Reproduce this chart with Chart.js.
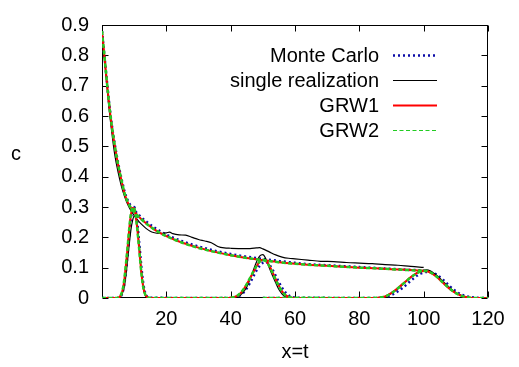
<!DOCTYPE html>
<html>
<head>
<meta charset="utf-8">
<script src="https://cdn.jsdelivr.net/npm/chart.js@4.4.1/dist/chart.umd.min.js"></script>
<style>
  html, body { margin: 0; padding: 0; background: #fff; }
  #wrap { width: 519px; height: 367px; }
</style>
</head>
<body>
<div id="wrap"><canvas id="grafico"></canvas></div>
<script>
// Datos (x = t, c)
const decayX = [0, 1, 2, 3, 4, 5, 6, 7, 8, 9, 10, 12, 14, 16, 18, 20, 25, 30, 35, 40, 45, 50, 55, 60, 65, 70, 75, 80, 85, 90, 95, 100];
const mcDecay = [0.88, 0.772, 0.665, 0.575, 0.505, 0.446, 0.396, 0.352, 0.322, 0.303, 0.29, 0.268, 0.25, 0.234, 0.221, 0.209, 0.187, 0.17, 0.156, 0.145, 0.136, 0.129, 0.122, 0.116, 0.111, 0.108, 0.105, 0.102, 0.099, 0.096, 0.093, 0.091];
const grw1Decay = [0.88, 0.77, 0.66, 0.57, 0.5, 0.44, 0.39, 0.345, 0.315, 0.297, 0.285, 0.262, 0.244, 0.228, 0.215, 0.204, 0.182, 0.166, 0.152, 0.141, 0.132, 0.125, 0.118, 0.113, 0.109, 0.106, 0.103, 0.1, 0.098, 0.095, 0.093, 0.09];
const grw2Decay = [0.88, 0.771, 0.661, 0.571, 0.5, 0.44, 0.391, 0.346, 0.316, 0.297, 0.284, 0.262, 0.243, 0.228, 0.215, 0.204, 0.182, 0.165, 0.152, 0.141, 0.132, 0.125, 0.118, 0.113, 0.109, 0.106, 0.103, 0.1, 0.098, 0.095, 0.092, 0.09];

const singleX = [0, 1, 2, 3, 4, 5, 6, 7, 8, 9, 10, 11, 12, 13, 14, 15, 16, 18, 20, 21, 22, 24, 26, 28, 30, 32, 34, 36, 38, 40, 44, 46, 48, 49, 50, 52, 54, 56, 58, 60, 64, 68, 72, 76, 80, 84, 88, 92, 96, 100];
const singleDecay = [0.88, 0.76, 0.645, 0.55, 0.47, 0.415, 0.37, 0.335, 0.308, 0.288, 0.272, 0.258, 0.246, 0.236, 0.227, 0.22, 0.216, 0.213, 0.215, 0.217, 0.212, 0.208, 0.207, 0.2, 0.193, 0.188, 0.182, 0.17, 0.165, 0.164, 0.163, 0.163, 0.165, 0.166, 0.162, 0.152, 0.142, 0.135, 0.131, 0.129, 0.125, 0.121, 0.12, 0.117, 0.115, 0.113, 0.11, 0.108, 0.104, 0.101];

// perfil en t = 10
const pulse1X = [0, 4, 5, 5.5, 6, 6.5, 7, 7.5, 8, 8.5, 9, 9.5, 10, 10.5, 11, 11.5, 12, 12.5, 13, 13.5, 14, 15, 38];
const mcP1 = [0, 0, 0, 0.002, 0.008, 0.022, 0.05, 0.095, 0.15, 0.21, 0.262, 0.293, 0.3, 0.283, 0.245, 0.19, 0.13, 0.076, 0.037, 0.015, 0.005, 0.001, 0];
const singleP1 = [0, 0, 0, 0.002, 0.008, 0.02, 0.04, 0.08, 0.13, 0.18, 0.225, 0.255, 0.27, 0.265, 0.235, 0.18, 0.115, 0.06, 0.025, 0.008, 0.002, 0, 0];
const grw1P1 = [0, 0, 0.001, 0.004, 0.012, 0.03, 0.065, 0.115, 0.17, 0.23, 0.275, 0.297, 0.295, 0.27, 0.225, 0.17, 0.11, 0.06, 0.027, 0.01, 0.003, 0, 0];
const grw2P1 = [0, 0, 0.001, 0.004, 0.013, 0.032, 0.068, 0.118, 0.174, 0.233, 0.278, 0.299, 0.296, 0.27, 0.224, 0.168, 0.108, 0.058, 0.026, 0.01, 0.003, 0, 0];

// perfil en t = 50
const pulse2X = [38, 40, 41, 42, 43, 44, 45, 46, 47, 48, 49, 50, 51, 52, 53, 54, 55, 56, 57, 58, 59, 60, 61, 62, 70];
const mcP2 = [0, 0, 0.002, 0.004, 0.009, 0.018, 0.032, 0.05, 0.07, 0.09, 0.106, 0.116, 0.118, 0.11, 0.094, 0.073, 0.052, 0.033, 0.019, 0.009, 0.004, 0.001, 0, 0, 0];
const singleP2 = [0, 0, 0.002, 0.005, 0.01, 0.02, 0.036, 0.062, 0.09, 0.118, 0.138, 0.143, 0.128, 0.1, 0.074, 0.05, 0.028, 0.013, 0.004, 0, 0, 0, 0, 0, 0];
const grw1P2 = [0, 0.001, 0.003, 0.007, 0.015, 0.028, 0.045, 0.064, 0.084, 0.104, 0.119, 0.126, 0.122, 0.107, 0.085, 0.062, 0.04, 0.022, 0.01, 0.004, 0.001, 0, 0, 0, 0];
const grw2P2 = [0, 0.001, 0.003, 0.007, 0.016, 0.029, 0.046, 0.066, 0.086, 0.105, 0.12, 0.126, 0.121, 0.105, 0.083, 0.06, 0.039, 0.021, 0.01, 0.004, 0.001, 0, 0, 0, 0];

// perfil en t = 100
const pulse3X = [50, 84, 86, 88, 90, 92, 94, 96, 98, 99, 100, 101, 102, 104, 106, 108, 110, 112, 114, 116, 118, 120];
const mcP3 = [0, 0, 0, 0.003, 0.01, 0.022, 0.038, 0.057, 0.074, 0.08, 0.084, 0.086, 0.086, 0.077, 0.06, 0.04, 0.022, 0.01, 0.004, 0.001, 0, 0];
const singleP3 = [0, 0, 0.001, 0.005, 0.015, 0.03, 0.049, 0.068, 0.084, 0.089, 0.092, 0.093, 0.09, 0.075, 0.055, 0.035, 0.018, 0.007, 0.002, 0, 0, 0];
const grw1P3 = [0, 0, 0.001, 0.005, 0.017, 0.033, 0.051, 0.069, 0.083, 0.087, 0.089, 0.088, 0.084, 0.07, 0.05, 0.031, 0.016, 0.006, 0.002, 0, 0, 0];
const grw2P3 = [0, 0, 0.001, 0.005, 0.016, 0.032, 0.05, 0.068, 0.082, 0.087, 0.089, 0.089, 0.085, 0.071, 0.051, 0.032, 0.016, 0.006, 0.002, 0, 0, 0];

// marcas de los ejes
const xTickValues = [0, 20, 40, 60, 80, 100, 120];
const yTickValues = [0, 0.1, 0.2, 0.3, 0.4, 0.5, 0.6, 0.7, 0.8, 0.9];

// Series (estilo tipo gnuplot)
const series = [
    { label: 'Monte Carlo', color: '#0c0ca8', width: 2.5, dash: [2, 3], legendWidth: 2.5, order: 4,
      curves: [[decayX, mcDecay], [pulse1X, mcP1], [pulse2X, mcP2], [pulse3X, mcP3]] },
    { label: 'single realization', color: '#000000', width: 1.2, dash: [], legendWidth: 1.2, order: 3,
      curves: [[singleX, singleDecay], [pulse1X, singleP1], [pulse2X, singleP2], [pulse3X, singleP3]] },
    { label: 'GRW1', color: '#ff0000', width: 2, dash: [], legendWidth: 2, order: 2,
      curves: [[decayX, grw1Decay], [pulse1X, grw1P1], [pulse2X, grw1P2], [pulse3X, grw1P3]] },
    { label: 'GRW2', color: '#22cc22', width: 2.5, dash: [4, 2.5], legendWidth: 1.2, order: 1,
      curves: [[decayX, grw2Decay], [pulse1X, grw2P1], [pulse2X, grw2P2], [pulse3X, grw2P3]] }
];

const datasets = [];
series.forEach(s => {
    s.curves.forEach(([xs, ys]) => {
        datasets.push({
            label: s.label,
            data: xs.map((x, i) => ({ x: x, y: ys[i] })),
            borderColor: s.color,
            borderWidth: s.width,
            borderDash: s.dash,
            pointRadius: 0,
            fill: false,
            cubicInterpolationMode: 'monotone',
            order: s.order
        });
    });
});

// Marco y marcas hacia dentro, como gnuplot
const marcoPlugin = {
    id: 'marco',
    beforeDatasetsDraw(chart) {
        const { ctx, chartArea: a, scales } = chart;
        const L = Math.round(a.left) + 0.5, R = Math.round(a.right) - 0.5;
        const T = Math.round(a.top) + 0.5, B = Math.round(a.bottom) - 0.5;
        const len = 6;
        ctx.save();
        ctx.strokeStyle = '#000';
        ctx.lineWidth = 1;
        ctx.strokeRect(L, T, R - L, B - T);
        ctx.beginPath();
        scales.x.ticks.forEach(t => {
            const px = Math.round(scales.x.getPixelForValue(t.value)) + 0.5;
            ctx.moveTo(px, B); ctx.lineTo(px, B - len);
            ctx.moveTo(px, T); ctx.lineTo(px, T + len);
        });
        scales.y.ticks.forEach(t => {
            const py = Math.round(scales.y.getPixelForValue(t.value)) + 0.5;
            ctx.moveTo(L, py); ctx.lineTo(L + len, py);
            ctx.moveTo(R, py); ctx.lineTo(R - len, py);
        });
        ctx.stroke();
        ctx.restore();
    },
    afterDraw(chart) {
        const { ctx } = chart;
        ctx.save();
        ctx.font = "20px 'Liberation Sans', Arial, sans-serif";
        ctx.fillStyle = '#000';
        // etiqueta del eje y, sin rotar
        ctx.textAlign = 'center';
        ctx.textBaseline = 'alphabetic';
        ctx.fillText('c', 16, 160);
        // leyenda dentro del área
        ctx.textAlign = 'right';
        series.forEach((s, i) => {
            const yc = 55 + i * 25;
            ctx.fillText(s.label, 379, yc + 7);
            ctx.beginPath();
            ctx.strokeStyle = s.color;
            ctx.lineWidth = s.legendWidth;
            ctx.setLineDash(s.dash);
            ctx.moveTo(393, yc + 0.5);
            ctx.lineTo(437, yc + 0.5);
            ctx.stroke();
        });
        ctx.restore();
    }
};

Chart.defaults.font.family = "'Liberation Sans', Arial, sans-serif";
Chart.defaults.font.size = 20;
Chart.defaults.color = '#000';

const ctx = document.getElementById('grafico').getContext('2d');
new Chart(ctx, {
    type: 'line',
    data: { datasets },
    options: {
        responsive: true,
        maintainAspectRatio: false,
        animation: false,
        devicePixelRatio: 1,
        layout: { padding: { top: 14, right: 31, left: 0, bottom: 0 } },
        plugins: {
            legend: { display: false },
            tooltip: { enabled: false }
        },
        scales: {
            x: {
                type: 'linear',
                min: 0,
                max: 120,
                grid: { display: false, drawTicks: false },
                border: { display: false },
                afterBuildTicks: scale => { scale.ticks = xTickValues.map(v => ({ value: v })); },
                afterFit: scale => { scale.height = 69; },
                ticks: {
                    padding: 9,
                    maxRotation: 0,
                    callback: v => (v === 0 ? '' : String(v))
                },
                title: { display: true, text: 'x=t', padding: { top: 0, bottom: 3 } }
            },
            y: {
                type: 'linear',
                min: 0,
                max: 0.9,
                grid: { display: false, drawTicks: false },
                border: { display: false },
                afterBuildTicks: scale => { scale.ticks = yTickValues.map(v => ({ value: v })); },
                afterFit: scale => { scale.width = 102; },
                ticks: {
                    padding: 13,
                    callback: v => (v === 0 ? '0' : v.toFixed(1))
                }
            }
        }
    },
    plugins: [marcoPlugin]
});
</script>
</body>
</html>
